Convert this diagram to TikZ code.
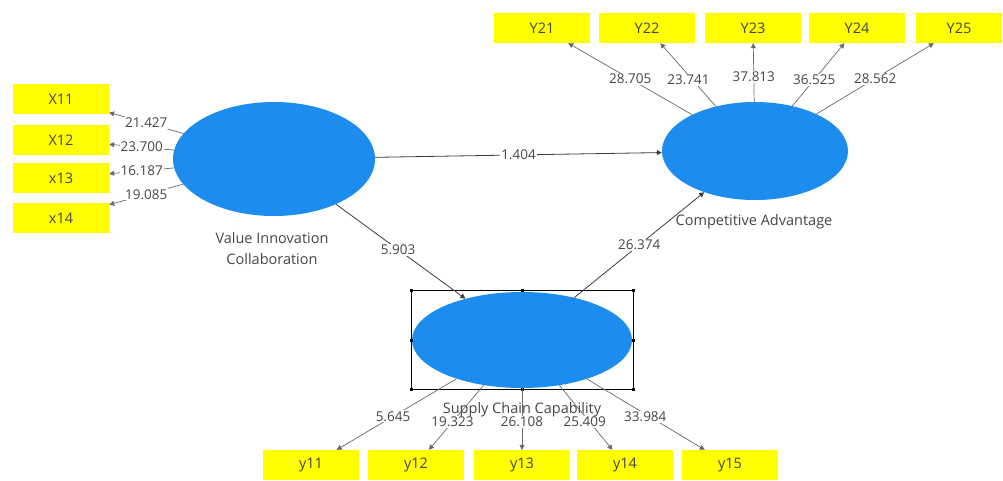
\documentclass[tikz,border=0pt]{standalone}
\usepackage{fontspec}
\setmainfont{Open Sans}
\usetikzlibrary{shapes.geometric,arrows.meta}
\definecolor{lvblue}{RGB}{28,141,238}
\definecolor{indyellow}{RGB}{255,255,0}
\definecolor{txtgray}{RGB}{70,70,70}
\definecolor{linegray}{RGB}{105,105,105}
\definecolor{pathgray}{RGB}{60,60,60}
\tikzset{
  indbox/.style={rectangle, fill=indyellow, minimum width=96pt, minimum height=30pt, inner sep=0pt, font=\fontsize{14.5}{16}\selectfont, text=txtgray},
  latent/.style={ellipse, fill=lvblue, inner sep=0pt},
  lvtext/.style={font=\fontsize{14.5}{21}\selectfont, text=txtgray, align=center},
  ind/.style={draw=linegray, line width=0.7pt, -{Triangle[width=5pt,length=5pt]}},
  pathline/.style={draw=pathgray, line width=0.8pt, -{Triangle[width=5pt,length=5pt]}},
  lbl/.style={font=\fontsize{13.5}{15}\selectfont, text=txtgray, fill=white, inner sep=1pt},
  handle/.style={fill=black, minimum size=3pt, inner sep=0pt, rectangle}
}
\begin{document}
\begin{tikzpicture}[x=1pt,y=-1pt]
\useasboundingbox[fill=white] (0,0) rectangle (1003,480);
% latent variables
\node[latent, minimum width=202pt, minimum height=114pt] (VIC) at (274,159) {};
\node[latent, minimum width=186pt, minimum height=98pt] (CA) at (755,151) {};
\node[latent, minimum width=220pt, minimum height=96pt] (SCC) at (522,340) {};
% selection frame around SCC
\draw[black, line width=0.6pt] (411,290) rectangle (633,389);
\foreach \hx/\hy [count=\i] in {411/290,522/290,633/290,411/340,633/340,411/389,522/389,633/389}
  \node[handle] (h\i) at (\hx,\hy) {};
% indicators
\node[indbox] (X11) at (61,99) {X11};
\node[indbox] (X12) at (61,140) {X12};
\node[indbox] (x13) at (61,178) {x13};
\node[indbox] (x14) at (61,218) {x14};
\node[indbox] (Y21) at (542,28) {Y21};
\node[indbox] (Y22) at (647,28) {Y22};
\node[indbox] (Y23) at (753,28) {Y23};
\node[indbox] (Y24) at (857,28) {Y24};
\node[indbox, minimum width=86pt] (Y25) at (959,28) {Y25};
\node[indbox] (y11) at (311,465) {y11};
\node[indbox] (y12) at (416,465) {y12};
\node[indbox] (y13) at (522,465) {y13};
\node[indbox] (y14) at (625,465) {y14};
\node[indbox] (y15) at (730,465) {y15};
% outer loadings
\draw[ind] (VIC) -- (X11) node[lbl,pos=0.5] {21.427};
\draw[ind] (VIC) -- (X12) node[lbl,pos=0.5] {23.700};
\draw[ind] (VIC) -- (x13) node[lbl,pos=0.5] {16.187};
\draw[ind] (VIC) -- (x14) node[lbl,pos=0.5] {19.085};
\draw[ind] (CA) -- (Y21) node[lbl,pos=0.5] {28.705};
\draw[ind] (CA) -- (Y22) node[lbl,pos=0.42,xshift=-4pt] {23.741};
\draw[ind] (CA) -- (Y23) node[lbl,pos=0.42] {37.813};
\draw[ind] (CA) -- (Y24) node[lbl,pos=0.42] {36.525};
\draw[ind] (CA) -- (Y25) node[lbl,pos=0.5] {28.562};
\draw[ind] (SCC) -- (y11) node[lbl,pos=0.53] {5.645};
\draw[ind] (SCC) -- (y12) node[lbl,pos=0.57] {19.323};
\draw[ind] (SCC) -- (y13) node[lbl,pos=0.55] {26.108};
\draw[ind] (SCC) -- (y14) node[lbl,pos=0.57,xshift=-5pt] {25.409};
\draw[ind] (SCC) -- (y15) node[lbl,pos=0.53,xshift=-4pt] {33.984};
% inner paths
\draw[pathline] (VIC) -- (CA) node[lbl,pos=0.5] {1.404};
\draw[pathline] (VIC) -- (SCC) node[lbl,pos=0.48] {5.903};
\draw[pathline] (SCC) -- (CA) node[lbl,pos=0.5] {26.374};
% latent labels
\node[lvtext] (tVIC) at (272,249) {Value Innovation\\Collaboration};
\node[lvtext] (tCA) at (754,222) {Competitive Advantage};
\node[lvtext] (tSCC) at (522,410) {Supply Chain Capability};
\end{tikzpicture}
\end{document}
